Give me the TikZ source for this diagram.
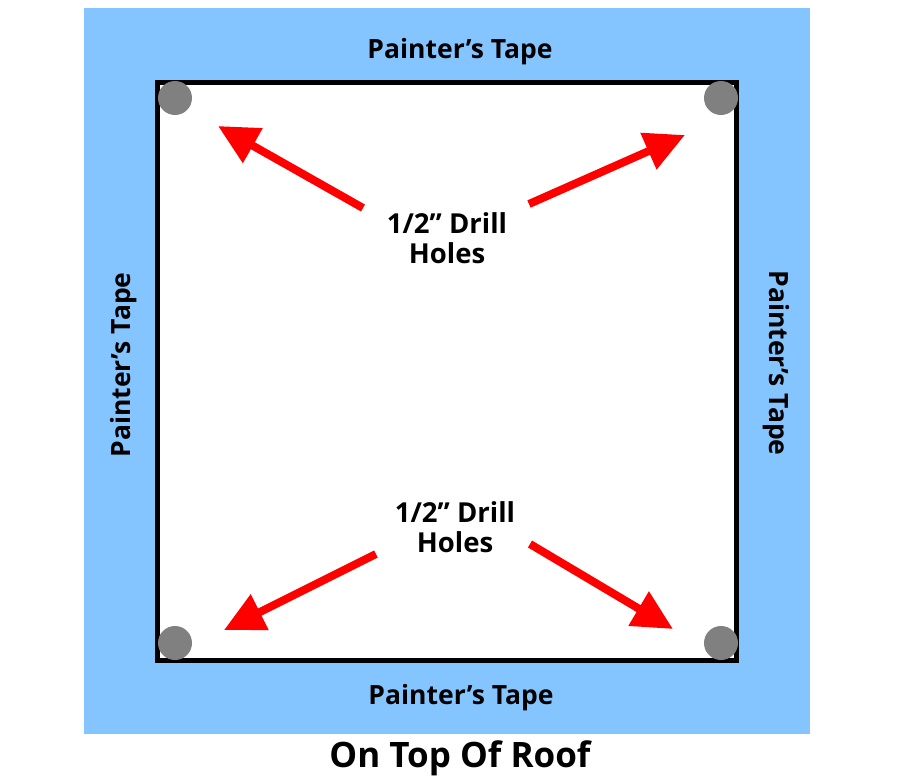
\documentclass[tikz,border=0pt]{standalone}
\usepackage{fontspec}
\setmainfont{Open Sans}
\usetikzlibrary{arrows.meta}
\definecolor{tapeblue}{RGB}{133,197,255}
\definecolor{holegray}{RGB}{128,128,128}
\definecolor{arrowred}{RGB}{255,0,0}
\tikzset{
  lbl/.style={font=\bfseries\fontsize{26.5}{30}\selectfont, text=black, inner sep=0pt},
  drill/.style={font=\bfseries\fontsize{27.5}{30}\selectfont, text=black, align=center, inner sep=0pt},
  hole/.style={circle, fill=holegray, minimum size=34pt, inner sep=0pt},
  redarrow/.style={draw=arrowred, line width=8pt, -{Triangle[length=40pt,width=38pt]}},
}
\begin{document}
\begin{tikzpicture}[x=1pt,y=-1pt]
\useasboundingbox (0,0) rectangle (914,782);
\fill[white] (0,0) rectangle (914,782);
\fill[tapeblue] (84,8) rectangle (810,734);
\draw[fill=white, line width=5pt] (157.5,82.5) rectangle (736.5,660.5);
\node[hole] (h1) at (175,98) {};
\node[hole] (h2) at (721,98) {};
\node[hole] (h3) at (175,643) {};
\node[hole] (h4) at (721,643) {};
\node[lbl] (ttop) at (460,52) {Painter’s Tape};
\node[lbl] (tbot) at (461,698) {Painter’s Tape};
\node[lbl, rotate=90] (tleft) at (124,365) {Painter’s Tape};
\node[lbl, rotate=-90] (tright) at (776,363) {Painter’s Tape};
\node[drill] (d1) at (447,238) {1/2” Drill\\Holes};
\node[drill] (d2) at (455,527) {1/2” Drill\\Holes};
\node[font=\bfseries\fontsize{35}{40}\selectfont, inner sep=0pt] (title) at (460,758) {On Top Of Roof};
\coordinate (a1s) at (363,208); \coordinate (a1e) at (218,126);
\coordinate (a2s) at (529,204); \coordinate (a2e) at (685,135);
\coordinate (a3s) at (376,554); \coordinate (a3e) at (224,630);
\coordinate (a4s) at (530,544); \coordinate (a4e) at (673,629);
\draw[redarrow] (a1s) -- (a1e);
\draw[redarrow] (a2s) -- (a2e);
\draw[redarrow] (a3s) -- (a3e);
\draw[redarrow] (a4s) -- (a4e);
\end{tikzpicture}
\end{document}
